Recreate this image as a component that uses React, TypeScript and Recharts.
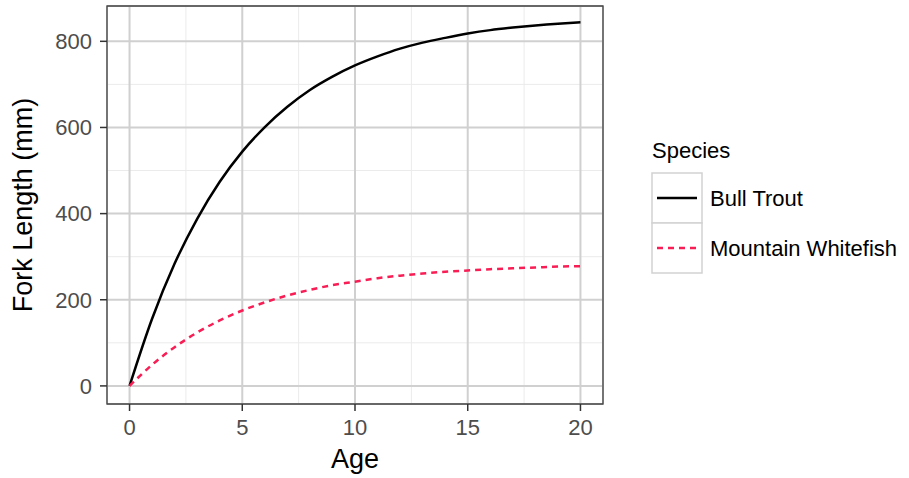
import React from 'react';
import {
  LineChart,
  Line,
  XAxis,
  YAxis,
  CartesianGrid,
  ReferenceArea,
  Legend,
} from 'recharts';

// ---- data ----
const ages = [0, 1, 2, 3, 4, 5, 6, 7, 8, 9, 10, 11, 12, 13, 14, 15, 16, 17, 18, 19, 20];
const bullTrout = [0, 156, 284, 388, 474, 544, 601, 648, 687, 718, 744, 765, 783, 797, 808, 818, 826, 832, 837, 841, 844];
const mountainWhitefish = [0, 49, 90, 124, 152, 175, 194, 210, 223, 234, 242, 250, 256, 261, 265, 268, 271, 273, 275, 277, 278];

const xTicks = [0, 5, 10, 15, 20];
const xMinorTicks = [2.5, 7.5, 12.5, 17.5];
const yTicks = [0, 200, 400, 600, 800];
const yMinorTicks = [100, 300, 500, 700];
const xDomain = [-1, 21];
const yDomain = [-42, 882];

const series = [
  { key: 'bull', name: 'Bull Trout', color: '#000000', dash: undefined as string | undefined },
  { key: 'white', name: 'Mountain Whitefish', color: '#F81D54', dash: '6 5' },
];

const data = ages.map((a, i) => ({ age: a, bull: bullTrout[i], white: mountainWhitefish[i] }));

const FONT = '"Liberation Sans", Arial, Helvetica, sans-serif';

const renderLegend = () => (
  <svg width={270} height={150} style={{ display: 'block', fontFamily: FONT }}>
    <text x={12} y={28} fontSize={22} fill="#000">Species</text>
    {series.map((s, i) => (
      <g key={s.key}>
        <rect x={12} y={43 + i * 50} width={50} height={50} fill="#ffffff" stroke="#D2D2D2" strokeWidth={1.5} />
        <line
          x1={17}
          x2={57}
          y1={68 + i * 50}
          y2={68 + i * 50}
          stroke={s.color}
          strokeWidth={2.5}
          strokeDasharray={s.dash}
        />
        <text x={70} y={76 + i * 50} fontSize={22} fill="#000">{s.name}</text>
      </g>
    ))}
  </svg>
);

const YTitle = (props: any) => {
  const vb = props.viewBox || { x: 0, y: 6, width: 107, height: 398 };
  const cx = vb.x + 32;
  const cy = vb.y + vb.height / 2;
  return (
    <text
      x={cx}
      y={cy}
      transform={`rotate(-90, ${cx}, ${cy})`}
      textAnchor="middle"
      fontSize={27}
      fill="#000"
      fontFamily={FONT}
    >
      Fork Length (mm)
    </text>
  );
};

export default function App() {
  return (
    <div style={{ position: 'absolute', left: 0, top: 0, width: 909, height: 478, background: '#fff', fontFamily: FONT }}>
      <LineChart
        width={909}
        height={478}
        data={data}
        margin={{ top: 6, right: 306, bottom: 0, left: 0 }}
      >
        <XAxis xAxisId="minor" type="number" dataKey="age" domain={xDomain} ticks={xMinorTicks} hide allowDataOverflow />
        <YAxis yAxisId="minor" type="number" domain={yDomain} ticks={yMinorTicks} hide allowDataOverflow />
        <CartesianGrid xAxisId="minor" yAxisId="minor" stroke="#EBEBEB" strokeWidth={1} />
        <CartesianGrid stroke="#D0D0D0" strokeWidth={2} />
        <XAxis
          type="number"
          dataKey="age"
          domain={xDomain}
          ticks={xTicks}
          allowDataOverflow
          height={74}
          axisLine={false}
          tickLine={{ stroke: '#333333', strokeWidth: 1.5 }}
          tickSize={7}
          tickMargin={8}
          tick={{ fill: '#4D4D4D', fontSize: 22, fontFamily: FONT }}
          label={{ value: 'Age', position: 'insideBottom', offset: 10, fill: '#000', fontSize: 27, fontFamily: FONT }}
        />
        <YAxis
          type="number"
          domain={yDomain}
          ticks={yTicks}
          allowDataOverflow
          width={107}
          axisLine={false}
          tickLine={{ stroke: '#333333', strokeWidth: 1.5 }}
          tickSize={7}
          tickMargin={8}
          tick={{ fill: '#4D4D4D', fontSize: 22, fontFamily: FONT }}
          label={<YTitle />}
        />
        {series.map((s) => (
          <Line
            key={s.key}
            type="monotone"
            dataKey={s.key}
            name={s.name}
            stroke={s.color}
            strokeWidth={2.5}
            strokeDasharray={s.dash}
            dot={false}
            activeDot={false}
            isAnimationActive={false}
          />
        ))}
        <ReferenceArea
          x1={xDomain[0]}
          x2={xDomain[1]}
          y1={yDomain[0]}
          y2={yDomain[1]}
          fill="none"
          fillOpacity={0}
          stroke="#444444"
          strokeWidth={1.3}
          ifOverflow="visible"
        />
        <Legend
          layout="horizontal"
          verticalAlign="middle"
          align="center"
          content={renderLegend}
          wrapperStyle={{ left: 640, top: 130, width: 270, height: 150 }}
        />
      </LineChart>
    </div>
  );
}
